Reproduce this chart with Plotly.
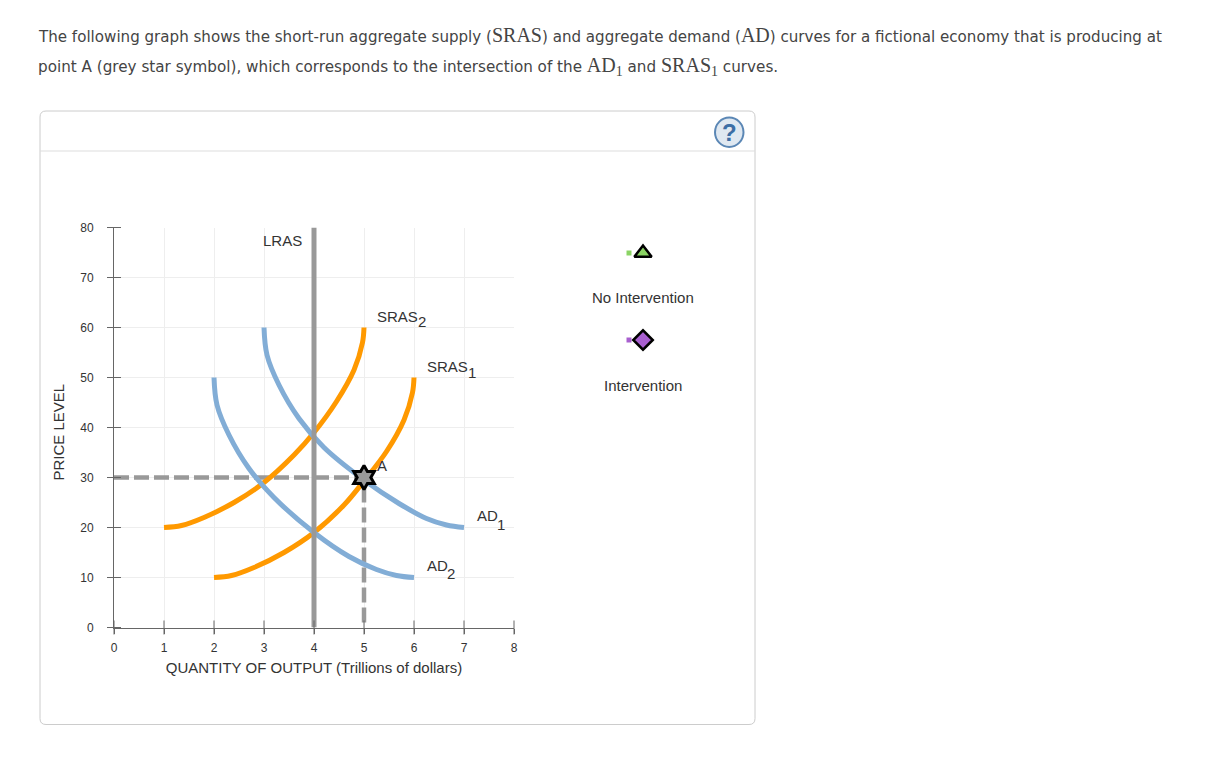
import plotly.graph_objects as go

WIDTH = 1217
HEIGHT = 757
# plot area in page pixels
LEFT, RIGHT, TOP, BOTTOM = 114, 514, 227.5, 627.5

x_ticks = [0, 1, 2, 3, 4, 5, 6, 7, 8]
y_ticks = [0, 10, 20, 30, 40, 50, 60, 70, 80]

ad1_x = [3, 3.06, 3.3, 3.7, 4.2, 5, 5.7, 6.25, 6.65, 7]
ad1_y = [60, 54.5, 48.5, 41.8, 36, 29.5, 24.8, 21.8, 20.5, 20]
ad2_x = [2, 2.06, 2.3, 2.7, 3.2, 4, 4.7, 5.25, 5.65, 6]
ad2_y = [50, 44.5, 38.5, 31.8, 26, 19, 14.2, 11.6, 10.4, 10]
sras1_x = [2, 2.35, 2.8, 3.4, 4, 4.6, 5, 5.45, 5.8, 5.97, 6]
sras1_y = [10, 10.4, 12, 15, 19, 24.5, 29.3, 35.2, 41.5, 47, 50]
sras2_x = [1, 1.35, 1.8, 2.4, 3, 3.6, 4, 4.45, 4.8, 4.97, 5]
sras2_y = [20, 20.4, 22, 25, 29, 34.5, 39, 45.2, 51.5, 57, 60]
lras_x = [4, 4]
lras_y = [0, 80]
guide_x = [0, 5, 5]
guide_y = [30, 30, 0]
point_a_x = [5]
point_a_y = [30]

# palette panel has its own hidden axes, units are page pixels from its corner
palette_x = [43]
swatch_x = [29]
no_interv_y = [23]
interv_y = [110]

curve_labels = ["LRAS", "SRAS", "2", "SRAS", "1", "AD", "1", "AD", "2", "A"]
label_x = [3.36, 5.66, 6.16, 6.66, 7.16, 7.46, 7.74, 6.46, 6.74, 5.36]
label_y = [77.4, 62.3, 61.3, 52.3, 51.1, 22.5, 20.7, 12.5, 10.9, 32.5]

palette_labels = ["No Intervention", "Intervention"]
palette_label_px = [298, 386]

BLUE = "#82add6"
ORANGE = "#ff9900"
GREY = "#999999"
GREEN = "#8bd464"
PURPLE = "#a85fcf"
TEXT = "#333333"
FONT = "Liberation Sans, Arial, sans-serif"
PAGE_FONT = "DejaVu Sans, Verdana, sans-serif"
MATH = "Liberation Serif, serif"


def px_x(p):
    return p / WIDTH


def px_y(p):
    return 1 - p / HEIGHT


def math(s):
    return '<span style="font-family:%s;font-size:20px">%s</span>' % (MATH, s)


def rounded_card(x0, y0, x1, y1, r):
    a, b, c, d = px_x(x0), px_x(x1), px_y(y0), px_y(y1)
    rx = r / WIDTH
    ry = r / HEIGHT
    return (f"M {a + rx} {c} L {b - rx} {c} Q {b} {c} {b} {c - ry} L {b} {d + ry} "
            f"Q {b} {d} {b - rx} {d} L {a + rx} {d} Q {a} {d} {a} {d + ry} "
            f"L {a} {c - ry} Q {a} {c} {a + rx} {c} Z")


fig = go.Figure()

fig.add_trace(go.Scatter(x=guide_x, y=guide_y, mode="lines",
                         line=dict(color=GREY, width=4.5, dash="15px,5px")))
for cx, cy, col in [(sras1_x, sras1_y, ORANGE), (sras2_x, sras2_y, ORANGE),
                    (ad1_x, ad1_y, BLUE), (ad2_x, ad2_y, BLUE)]:
    fig.add_trace(go.Scatter(x=cx, y=cy, mode="lines",
                             line=dict(color=col, width=5, shape="spline", smoothing=1)))
fig.add_trace(go.Scatter(x=lras_x, y=lras_y, mode="lines", line=dict(color=GREY, width=5)))

# ticks cross the axis lines, plotly only draws one side
fig.add_trace(go.Scatter(x=x_ticks, y=[0] * len(x_ticks), mode="markers", cliponaxis=False,
                         marker=dict(symbol="line-ns", size=10, line=dict(color="#666666", width=1))))
fig.add_trace(go.Scatter(x=[0] * len(y_ticks), y=y_ticks, mode="markers", cliponaxis=False,
                         marker=dict(symbol="line-ew", size=10, line=dict(color="#666666", width=1))))

fig.add_trace(go.Scatter(x=point_a_x, y=point_a_y, mode="markers", cliponaxis=False,
                         marker=dict(symbol="hexagram", size=18, color=GREY,
                                     line=dict(color="black", width=3))))

for py, col, sym in [(no_interv_y, GREEN, "triangle-up"), (interv_y, PURPLE, "diamond")]:
    fig.add_trace(go.Scatter(x=swatch_x, y=py, mode="markers", xaxis="x2", yaxis="y2",
                             marker=dict(symbol="square", size=5, color=col)))
    fig.add_trace(go.Scatter(x=palette_x, y=py, mode="markers", xaxis="x2", yaxis="y2",
                             marker=dict(symbol=sym, size=15, color=col,
                                         line=dict(color="black", width=2.5))))

annotations = []
for t, lx, ly in zip(curve_labels, label_x, label_y):
    annotations.append(dict(x=lx, y=ly, text=t, showarrow=False, xanchor="center", yanchor="middle",
                            font=dict(family=FONT, size=15, color=TEXT)))
for t, py in zip(palette_labels, palette_label_px):
    annotations.append(dict(xref="paper", yref="paper", x=px_x(643), y=px_y(py - 0.5), text=t, showarrow=False,
                            xanchor="center", yanchor="middle", font=dict(family=FONT, size=15, color=TEXT)))

# the reference title sits a little below the axis middle, so not a real axis title
annotations.append(dict(xref="paper", yref="paper", x=px_x(58), y=px_y(431.5), text="PRICE LEVEL", showarrow=False,
                        textangle=-90, xanchor="center", yanchor="middle",
                        font=dict(family=FONT, size=15, color=TEXT)))

line1 = ("The following graph shows the short-run aggregate supply (" + math("SRAS")
         + ") and aggregate demand (" + math("AD")
         + ") curves for a fictional economy that is producing at")
line2 = ("point A (grey star symbol), which corresponds to the intersection of the " + math("AD<sub>1</sub>")
         + " and " + math("SRAS<sub>1</sub>") + " curves.")
for t, py, size in [(line1, 35, 15.1), (line2, 67, 15.2)]:
    annotations.append(dict(xref="paper", yref="paper", x=px_x(36), y=px_y(py), text=t, showarrow=False,
                            xanchor="left", yanchor="middle", align="left",
                            font=dict(family=PAGE_FONT, size=size, color="#444444")))
annotations.append(dict(xref="paper", yref="paper", x=px_x(729), y=px_y(132), text="<b>?</b>", showarrow=False,
                        xanchor="center", yanchor="middle",
                        font=dict(family=FONT, size=24, color="#3c6ea5")))

shapes = [
    dict(type="path", xref="paper", yref="paper", path=rounded_card(40, 111, 755, 724.5, 6),
         line=dict(color="#cccccc", width=1), fillcolor="white", layer="below"),
    dict(type="line", xref="paper", yref="paper", x0=px_x(40), x1=px_x(755), y0=px_y(151), y1=px_y(151),
         line=dict(color="#dddddd", width=1), layer="below"),
    dict(type="circle", xref="paper", yref="paper", x0=px_x(715), x1=px_x(743.5), y0=px_y(117.5), y1=px_y(147),
         line=dict(color="#5b87b5", width=2), fillcolor="#dfe8f1", layer="below"),
]

fig.update_layout(
    width=WIDTH, height=HEIGHT, showlegend=False, autosize=False,
    margin=dict(l=0, r=0, t=0, b=0, pad=0),
    paper_bgcolor="white", plot_bgcolor="white",
    shapes=shapes, annotations=annotations,
    xaxis=dict(domain=[px_x(LEFT), px_x(RIGHT)], range=[0, 8], tickvals=x_ticks, ticks="outside", ticklen=5,
               tickcolor="#666666", showgrid=True, gridcolor="#eeeeee", gridwidth=1, zeroline=False,
               showline=True, linecolor="#666666", linewidth=1, ticklabelstandoff=4, automargin=False,
               tickfont=dict(family=FONT, size=12, color=TEXT),
               title=dict(text="QUANTITY OF OUTPUT (Trillions of dollars)", standoff=8,
                          font=dict(family=FONT, size=15, color=TEXT))),
    yaxis=dict(domain=[px_y(BOTTOM), px_y(TOP)], range=[0, 80], tickvals=y_ticks, ticks="outside", ticklen=5,
               tickcolor="#666666", showgrid=True, gridcolor="#eeeeee", gridwidth=1, zeroline=False,
               showline=True, linecolor="#666666", linewidth=1, ticklabelstandoff=12, automargin=False,
               tickfont=dict(family=FONT, size=12, color=TEXT)),
    xaxis2=dict(domain=[px_x(600), px_x(700)], range=[0, 100], anchor="y2", visible=False),
    yaxis2=dict(domain=[px_y(400), px_y(230)], range=[170, 0], anchor="x2", visible=False),
)

fig.write_html("out.html", config=dict(displayModeBar=False),
               post_script="document.body.style.margin='0';document.body.style.overflow='hidden';")
